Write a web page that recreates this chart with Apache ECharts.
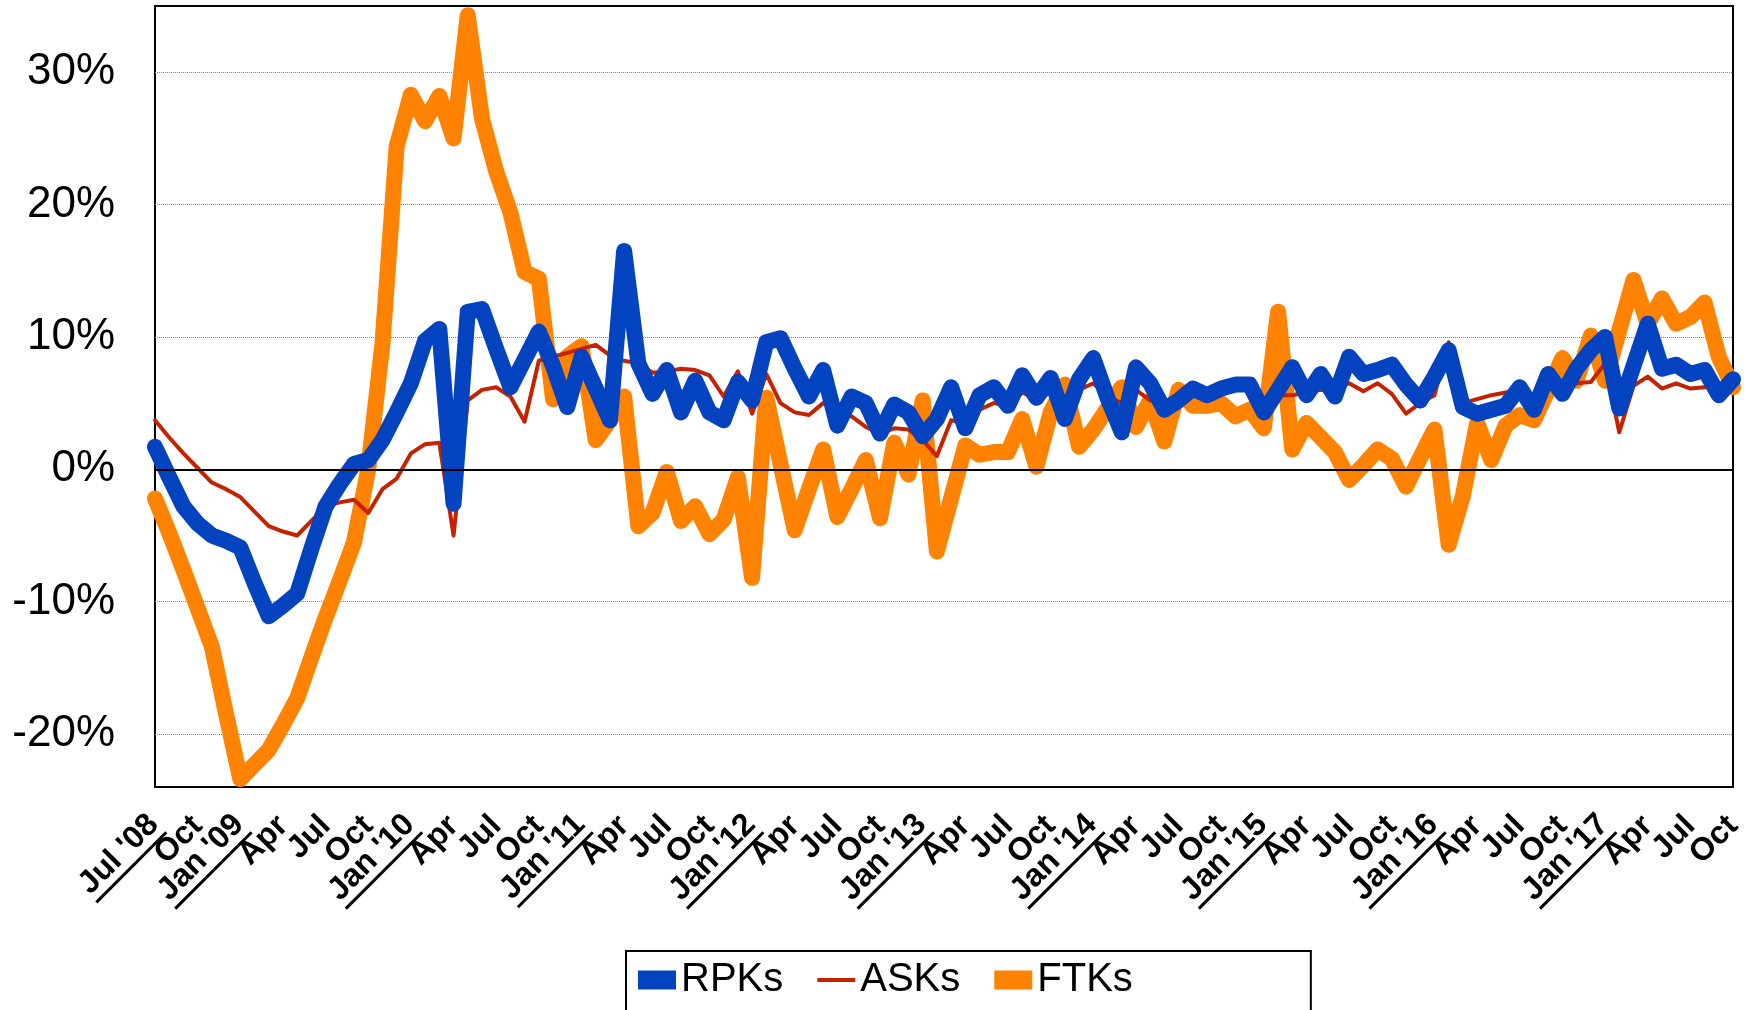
<!DOCTYPE html>
<html>
<head>
<meta charset="utf-8">
<script src="https://cdn.jsdelivr.net/npm/echarts@6/dist/echarts.min.js"></script>
<style>
  html, body { margin: 0; padding: 0; background: #fff; }
  #chart { width: 1756px; height: 1010px; }
</style>
</head>
<body>
<div id="chart"></div>
<script>
// Monthly year-on-year growth, Jul 2008 - Oct 2017 (%)
const categories = [
  "Jul '08", "Aug", "Sep", "Oct", "Nov", "Dec",
  "Jan '09", "Feb", "Mar", "Apr", "May", "Jun", "Jul", "Aug", "Sep", "Oct", "Nov", "Dec",
  "Jan '10", "Feb", "Mar", "Apr", "May", "Jun", "Jul", "Aug", "Sep", "Oct", "Nov", "Dec",
  "Jan '11", "Feb", "Mar", "Apr", "May", "Jun", "Jul", "Aug", "Sep", "Oct", "Nov", "Dec",
  "Jan '12", "Feb", "Mar", "Apr", "May", "Jun", "Jul", "Aug", "Sep", "Oct", "Nov", "Dec",
  "Jan '13", "Feb", "Mar", "Apr", "May", "Jun", "Jul", "Aug", "Sep", "Oct", "Nov", "Dec",
  "Jan '14", "Feb", "Mar", "Apr", "May", "Jun", "Jul", "Aug", "Sep", "Oct", "Nov", "Dec",
  "Jan '15", "Feb", "Mar", "Apr", "May", "Jun", "Jul", "Aug", "Sep", "Oct", "Nov", "Dec",
  "Jan '16", "Feb", "Mar", "Apr", "May", "Jun", "Jul", "Aug", "Sep", "Oct", "Nov", "Dec",
  "Jan '17", "Feb", "Mar", "Apr", "May", "Jun", "Jul", "Aug", "Sep", "Oct"
];

// Every third month carries a tick label
const LABEL_STEP = 3;

const rpks = [
  1.7, -0.6, -2.8, -4.1, -5.0, -5.4, -5.9, -8.6, -11.1, -10.3,
  -9.4, -6.0, -2.8, -1.1, 0.4, 0.7, 2.2, 4.3, 6.5, 9.7,
  10.6, -2.6, 11.9, 12.1, 9.1, 6.2, 8.3, 10.4, 7.8, 4.7,
  8.5, 6.1, 3.7, 16.5, 8.0, 5.7, 7.5, 4.3, 6.7, 4.3,
  3.7, 6.6, 5.2, 9.6, 9.9, 7.6, 5.5, 7.5, 3.3, 5.5,
  5.0, 2.7, 4.9, 4.3, 2.5, 3.8, 6.2, 3.1, 5.6, 6.2,
  4.8, 7.1, 5.4, 6.9, 3.8, 6.8, 8.4, 5.4, 2.8, 7.7,
  6.5, 4.5, 5.2, 6.1, 5.6, 6.1, 6.4, 6.4, 4.3, 6.0,
  7.7, 5.6, 7.2, 5.5, 8.5, 7.2, 7.5, 7.9, 6.4, 5.2,
  7.0, 9.0, 4.7, 4.2, 4.5, 4.8, 6.2, 4.5, 7.2, 5.7,
  7.6, 9.0, 10.0, 4.6, 7.8, 11.0, 7.6, 7.9, 7.2, 7.5,
  5.6, 6.8
];

const asks = [
  3.7, 2.4, 1.2, 0.1, -1.0, -1.5, -2.1, -3.2, -4.3, -4.7,
  -5.0, -3.9, -2.8, -2.5, -2.3, -3.3, -1.5, -0.7, 1.2, 1.9,
  2.0, -5.0, 5.2, 6.0, 6.2, 5.5, 3.6, 8.2, 8.5, 8.8,
  9.1, 9.4, 8.6, 8.2, 8.0, 7.3, 7.4, 7.6, 7.5, 7.1,
  5.5, 7.4, 4.2, 7.2, 5.0, 4.3, 4.1, 5.0, 4.5, 4.0,
  3.2, 2.7, 3.1, 3.0, 2.2, 1.0, 3.7, 3.5, 4.5, 5.0,
  4.8, 5.8, 5.3, 5.8, 5.5, 6.0, 6.5, 5.5, 5.0, 6.0,
  5.2, 5.0, 5.3, 5.8, 5.6, 5.8, 6.2, 6.0, 5.0, 5.6,
  5.6, 5.8, 6.0, 6.0, 6.5, 5.9, 6.5, 5.7, 4.2, 5.0,
  5.6, 9.6, 5.0, 5.3, 5.6, 5.8, 6.0, 5.6, 6.2, 6.2,
  6.5, 6.6, 8.0, 2.8, 6.3, 7.0, 6.1, 6.5, 6.1, 6.2,
  6.3, 6.5
];

const ftks = [
  -2.2, -4.8, -7.6, -10.5, -13.4, -18.5, -23.4, -22.3, -21.2, -19.3,
  -17.3, -14.2, -11.2, -8.4, -5.5, 0.0, 9.5, 24.4, 28.3, 26.3,
  28.2, 25.0, 34.3, 26.5, 22.5, 19.4, 14.9, 14.4, 5.3, 8.5,
  9.3, 2.2, 3.7, 5.5, -4.3, -3.3, -0.2, -3.9, -2.8, -4.9,
  -3.8, -0.6, -8.2, 5.4, 0.4, -4.6, -1.5, 1.5, -3.6, -1.5,
  0.7, -3.7, 2.0, -0.4, 5.2, -6.2, -2.2, 1.8, 1.1, 1.3,
  1.3, 3.8, 0.2, 4.3, 6.4, 1.7, 3.0, 4.6, 6.2, 3.2,
  5.2, 2.1, 6.0, 4.8, 4.8, 5.0, 4.0, 4.5, 3.1, 11.9,
  1.5, 3.5, 2.4, 1.3, -0.8, 0.3, 1.5, 0.8, -1.3, 0.9,
  3.0, -5.7, -2.0, 3.5, 0.7, 3.3, 4.1, 3.7, 6.0, 8.4,
  6.7, 10.1, 6.7, 10.5, 14.3, 11.0, 12.9, 11.0, 11.5, 12.6,
  8.5, 6.2
];

// Value axis range and the levels that get a gridline / label
const yMin = -24;
const yMax = 35;
const gridLevels = [30, 20, 10, -10, -20];

const FONT = '"Liberation Sans", Arial, Helvetica, sans-serif';
const X_LABEL_SIZE = 32;

// Year labels are underlined: a thin bar the width of the label text
const measureCtx = document.createElement('canvas').getContext('2d');
measureCtx.font = 'bold ' + X_LABEL_SIZE + 'px ' + FONT;
const richStyles = {
  t: { fontSize: X_LABEL_SIZE, fontWeight: 'bold', fontFamily: FONT, color: '#000', lineHeight: 32 }
};
categories.forEach(function (c, i) {
  if (c.indexOf("'") >= 0) {
    richStyles['u' + i] = {
      width: Math.ceil(measureCtx.measureText(c).width),
      height: 3, lineHeight: 4, fontSize: 1,
      backgroundColor: '#000'
    };
  }
});

const chart = echarts.init(document.getElementById('chart'), null, { renderer: 'canvas' });

const COLORS = { rpks: '#0443C0', asks: '#C42200', ftks: '#FF8200' };

chart.setOption({
  animation: false,
  backgroundColor: '#fff',
  grid: {
    left: 155, right: 23, top: 6, bottom: 223,
    show: true, borderColor: '#000', borderWidth: 2, backgroundColor: 'transparent'
  },
  legend: {
    left: 626, top: 951,
    orient: 'horizontal',
    padding: [9, 178, 40, 12],
    borderColor: '#000', borderWidth: 2,
    itemWidth: 38, itemHeight: 19, itemGap: 34,
    itemStyle: { borderWidth: 0 },
    textStyle: { fontSize: 40, color: '#000', fontFamily: FONT },
    data: [
      { name: 'RPKs', icon: 'rect' },
      { name: 'ASKs', icon: 'path://M0,0h0.01v0.01h-0.01zM0,7.5h38v4h-38zM37.99,18.99h0.01v0.01h-0.01z' },
      { name: 'FTKs', icon: 'rect' }
    ]
  },
  xAxis: {
    type: 'category',
    data: categories,
    boundaryGap: false,
    axisLine: { show: false },
    axisTick: { show: false },
    splitLine: { show: false },
    axisLabel: {
      interval: 0,
      rotate: 45,
      margin: 34,
      hideOverlap: false,
      fontSize: X_LABEL_SIZE,
      fontWeight: 'bold',
      fontFamily: FONT,
      color: '#000',
      formatter: function (value, index) {
        if (index % LABEL_STEP !== 0) return '';
        if (value.indexOf("'") >= 0) {
          return '{t|' + value + '}\n{u' + index + '| }';
        }
        return '{t|' + value + '}';
      },
      rich: richStyles
    }
  },
  yAxis: {
    type: 'value',
    min: yMin,
    max: yMax,
    interval: 2,
    axisLine: { show: false },
    axisTick: { show: false },
    splitLine: { show: false },
    axisLabel: {
      margin: 40,
      fontSize: 44,
      fontFamily: FONT,
      color: '#000',
      formatter: function (v) {
        return (Math.round(v) % 10 === 0) ? Math.round(v) + '%' : '';
      }
    }
  },
  series: [
    {
      name: 'gridlines', type: 'line', data: [], silent: true, z: 1,
      markLine: {
        silent: true, z: 1, symbol: 'none', animation: false,
        label: { show: false },
        lineStyle: { type: 'dotted', color: '#8a8a8a', width: 1 },
        emphasis: { disabled: true },
        data: gridLevels.map(function (v) { return { yAxis: v }; })
      }
    },
    {
      name: 'FTKs', type: 'line', data: ftks, z: 2,
      symbol: 'none', clip: false,
      color: COLORS.ftks,
      itemStyle: { color: COLORS.ftks },
      lineStyle: { color: COLORS.ftks, width: 16, cap: 'round', join: 'round' }
    },
    {
      name: 'ASKs', type: 'line', data: asks, z: 3,
      symbol: 'none', clip: false,
      color: COLORS.asks,
      itemStyle: { color: COLORS.asks },
      lineStyle: { color: COLORS.asks, width: 4, cap: 'round', join: 'round' }
    },
    {
      name: 'RPKs', type: 'line', data: rpks, z: 4,
      symbol: 'none', clip: false,
      color: COLORS.rpks,
      itemStyle: { color: COLORS.rpks },
      lineStyle: { color: COLORS.rpks, width: 16, cap: 'round', join: 'round' }
    },
    {
      name: 'zero', type: 'line', data: [], silent: true, z: 10,
      markLine: {
        silent: true, z: 10, symbol: 'none', animation: false,
        label: { show: false },
        lineStyle: { type: 'solid', color: '#000', width: 2 },
        emphasis: { disabled: true },
        data: [{ yAxis: 0 }]
      }
    }
  ]
});
</script>
</body>
</html>
